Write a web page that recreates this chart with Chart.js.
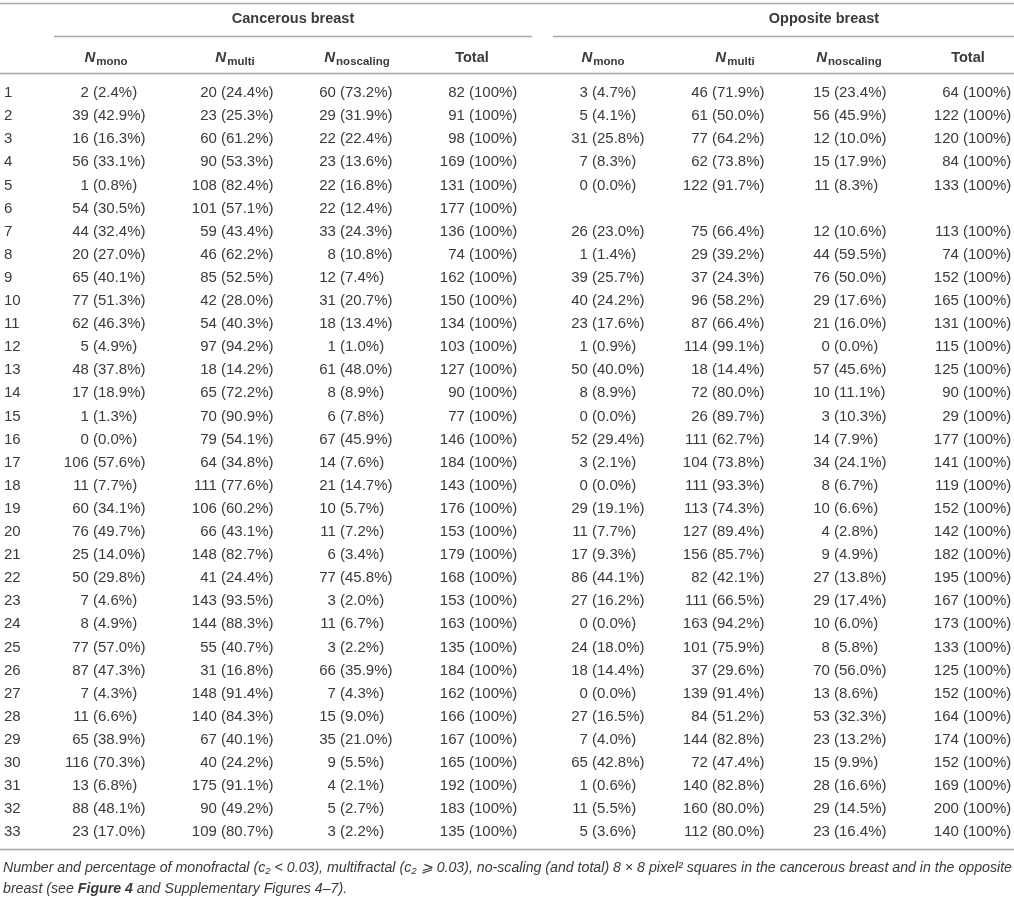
<!DOCTYPE html>
<html>
<head>
<meta charset="utf-8">
<script src="https://cdn.jsdelivr.net/npm/chart.js@4.4.0/dist/chart.umd.min.js"></script>
<style>
  html, body { margin:0; padding:0; background:#fff; }
  #wrap { width:1014px; height:899px; position:relative; }
</style>
</head>
<body>
<div id="wrap"><canvas id="tbl"></canvas></div>
<script>
// rows (case number)
const cases = [1,2,3,4,5,6,7,8,9,10,11,12,13,14,15,16,17,18,19,20,21,22,23,24,25,26,27,28,29,30,31,32,33];

// cancerous breast
const cMono     = [2,39,16,56,1,54,44,20,65,77,62,5,48,17,1,0,106,11,60,76,25,50,7,8,77,87,7,11,65,116,13,88,23];
const cMonoPct  = [2.4,42.9,16.3,33.1,0.8,30.5,32.4,27.0,40.1,51.3,46.3,4.9,37.8,18.9,1.3,0.0,57.6,7.7,34.1,49.7,14.0,29.8,4.6,4.9,57.0,47.3,4.3,6.6,38.9,70.3,6.8,48.1,17.0];
const cMulti    = [20,23,60,90,108,101,59,46,85,42,54,97,18,65,70,79,64,111,106,66,148,41,143,144,55,31,148,140,67,40,175,90,109];
const cMultiPct = [24.4,25.3,61.2,53.3,82.4,57.1,43.4,62.2,52.5,28.0,40.3,94.2,14.2,72.2,90.9,54.1,34.8,77.6,60.2,43.1,82.7,24.4,93.5,88.3,40.7,16.8,91.4,84.3,40.1,24.2,91.1,49.2,80.7];
const cNoscal   = [60,29,22,23,22,22,33,8,12,31,18,1,61,8,6,67,14,21,10,11,6,77,3,11,3,66,7,15,35,9,4,5,3];
const cNoscalPct= [73.2,31.9,22.4,13.6,16.8,12.4,24.3,10.8,7.4,20.7,13.4,1.0,48.0,8.9,7.8,45.9,7.6,14.7,5.7,7.2,3.4,45.8,2.0,6.7,2.2,35.9,4.3,9.0,21.0,5.5,2.1,2.7,2.2];
const cTotal    = [82,91,98,169,131,177,136,74,162,150,134,103,127,90,77,146,184,143,176,153,179,168,153,163,135,184,162,166,167,165,192,183,135];

// opposite breast (case 6 has no data)
const oMono     = [3,5,31,7,0,null,26,1,39,40,23,1,50,8,0,52,3,0,29,11,17,86,27,0,24,18,0,27,7,65,1,11,5];
const oMonoPct  = [4.7,4.1,25.8,8.3,0.0,null,23.0,1.4,25.7,24.2,17.6,0.9,40.0,8.9,0.0,29.4,2.1,0.0,19.1,7.7,9.3,44.1,16.2,0.0,18.0,14.4,0.0,16.5,4.0,42.8,0.6,5.5,3.6];
const oMulti    = [46,61,77,62,122,null,75,29,37,96,87,114,18,72,26,111,104,111,113,127,156,82,111,163,101,37,139,84,144,72,140,160,112];
const oMultiPct = [71.9,50.0,64.2,73.8,91.7,null,66.4,39.2,24.3,58.2,66.4,99.1,14.4,80.0,89.7,62.7,73.8,93.3,74.3,89.4,85.7,42.1,66.5,94.2,75.9,29.6,91.4,51.2,82.8,47.4,82.8,80.0,80.0];
const oNoscal   = [15,56,12,15,11,null,12,44,76,29,21,0,57,10,3,14,34,8,10,4,9,27,29,10,8,70,13,53,23,15,28,29,23];
const oNoscalPct= [23.4,45.9,10.0,17.9,8.3,null,10.6,59.5,50.0,17.6,16.0,0.0,45.6,11.1,10.3,7.9,24.1,6.7,6.6,2.8,4.9,13.8,17.4,6.0,5.8,56.0,8.6,32.3,13.2,9.9,16.6,14.5,16.4];
const oTotal    = [64,122,120,84,133,null,113,74,152,165,131,115,125,90,29,177,141,119,152,142,182,195,167,173,133,125,152,164,174,152,169,200,140];
const totalPct  = 100;

// header texts
const groupTitles = ["Cancerous breast", "Opposite breast"];
const colHeads = [["N","mono"],["N","multi"],["N","noscaling"],["Total",""]];
const captionLine1 = "Number and percentage of monofractal (c\u2082 < 0.03), multifractal (c\u2082 \u2A7E 0.03), no-scaling (and total) 8 \u00D7 8 pixel\u00B2 squares in the cancerous breast and in the opposite";
const captionLine2 = [["breast (see ", false], ["Figure 4", true], [" and Supplementary Figures 4\u20137).", false]];

// layout (pixels on the x scale, row units on the y scale)
const ROW1_PX = 93, ROW_STEP = 23.1, H = 899, W = 1014;
const colAnchor = [93, 221, 340, 469, 592, 712, 834, 963];
const headCenter = [106, 235, 357, 472, 603, 735, 849, 968];
const groupCenter = [293, 824];
const groupRule = [[54, 532], [553, 1014]];
const TXT = "#3a3a3a", RULE = "#a8a8a8";
const FONT = "Liberation Sans, Arial, Helvetica, sans-serif";

function fmt(n, d=1){ return (n===null||n===undefined) ? null : Number(n).toFixed(d); }

function colSet(counts, pcts, col, isTotal){
  return {
    label: "col" + col,
    pointRadius: 0, pointHoverRadius: 0,
    data: cases.map((c, i) => counts[i] === null ? null : ({
      x: colAnchor[col], y: c,
      count: counts[i], pct: isTotal ? totalPct : pcts[i], total: isTotal
    })).filter(p => p)
  };
}

const datasets = [
  { label: "case", pointRadius: 0, data: cases.map(c => ({x: 4, y: c, rowLabel: String(c)})) },
  colSet(cMono, cMonoPct, 0), colSet(cMulti, cMultiPct, 1), colSet(cNoscal, cNoscalPct, 2), colSet(cTotal, null, 3, true),
  colSet(oMono, oMonoPct, 4), colSet(oMulti, oMultiPct, 5), colSet(oNoscal, oNoscalPct, 6), colSet(oTotal, null, 7, true),
];

// y scale in row units: row 1 sits at ROW1_PX, one row per ROW_STEP px
const yMin = 1 - ROW1_PX / ROW_STEP;
const yMax = 1 + (H - ROW1_PX) / ROW_STEP;

const tablePlugin = {
  id: "tableText",
  afterDatasetsDraw(chart){
    const ctx = chart.ctx;
    const yS = chart.scales.y;
    const pxRow = (px) => yS.getValueForPixel(px);
    const line = (x0, x1, yv) => {
      const y = Math.round(yS.getPixelForValue(yv)) + 0.5;
      ctx.beginPath(); ctx.moveTo(x0, y); ctx.lineTo(x1, y); ctx.stroke();
    };
    ctx.save();
    ctx.strokeStyle = RULE; ctx.lineWidth = 1.5;
    line(0, W, pxRow(3));
    groupRule.forEach(r => line(r[0], r[1], pxRow(36)));
    line(0, W, pxRow(73));
    line(0, W, pxRow(849));

    ctx.fillStyle = TXT;
    ctx.textBaseline = "middle";

    // group titles
    ctx.font = "bold 14.5px " + FONT;
    ctx.textAlign = "center";
    groupTitles.forEach((t, i) => ctx.fillText(t, groupCenter[i], yS.getPixelForValue(pxRow(19))));

    // column heads
    const hy = yS.getPixelForValue(pxRow(58));
    headCenter.forEach((cx, i) => {
      const [main, sub] = colHeads[i % 4];
      const mainFont = sub ? "italic bold 15px " + FONT : "bold 14.5px " + FONT;
      const subFont = "bold 11.5px " + FONT;
      ctx.font = mainFont; const w1 = ctx.measureText(main).width;
      ctx.font = subFont; const w2 = sub ? ctx.measureText(sub).width + 1 : 0;
      let x = cx - (w1 + w2) / 2;
      ctx.textAlign = "left";
      ctx.font = mainFont; ctx.fillText(main, x, hy);
      if (sub){ ctx.font = subFont; ctx.fillText(sub, x + w1 + 1, hy + 4); }
    });

    // body cells
    ctx.font = "15px " + FONT;
    chart.data.datasets.forEach((ds, di) => {
      const meta = chart.getDatasetMeta(di);
      meta.data.forEach((el, i) => {
        const d = ds.data[i];
        if (d.rowLabel){ ctx.textAlign = "left"; ctx.fillText(d.rowLabel, el.x, el.y); return; }
        ctx.textAlign = "right"; ctx.fillText(d.count + " ", el.x, el.y);
        ctx.textAlign = "left";
        ctx.fillText("(" + (d.total ? d.pct : fmt(d.pct)) + "%)", el.x, el.y);
      });
    });

    // caption
    const capFont = "italic 14px " + FONT;
    const boldCap = "italic bold 14px " + FONT;
    ctx.font = capFont;
    const sx = (1012 - 3) / ctx.measureText(captionLine1).width;
    ctx.textAlign = "left";
    ctx.save();
    ctx.translate(3, 0); ctx.scale(sx, 1);
    ctx.fillText(captionLine1, 0, yS.getPixelForValue(pxRow(868)));
    let x = 0;
    const y2 = yS.getPixelForValue(pxRow(889));
    captionLine2.forEach(([t, b]) => {
      ctx.font = b ? boldCap : capFont;
      ctx.fillText(t, x, y2);
      x += ctx.measureText(t).width;
    });
    ctx.restore();
    ctx.restore();
  }
};

window.addEventListener("DOMContentLoaded", () => {
  new Chart(document.getElementById("tbl"), {
    type: "scatter",
    data: { datasets },
    options: {
      responsive: true, maintainAspectRatio: false, animation: false,
      layout: { padding: 0 },
      events: [],
      scales: {
        x: { type: "linear", min: 0, max: W, display: false },
        y: { type: "linear", min: yMin, max: yMax, reverse: true, display: false }
      },
      plugins: { legend: { display: false }, tooltip: { enabled: false } }
    },
    plugins: [tablePlugin]
  });
});
</script>
</body>
</html>
